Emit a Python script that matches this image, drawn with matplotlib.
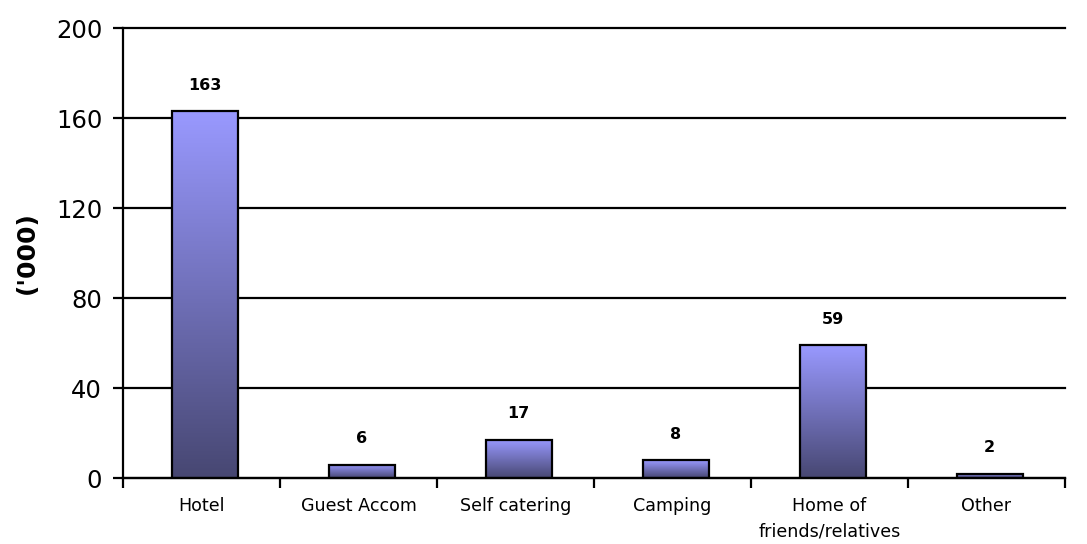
import numpy as np
import matplotlib
matplotlib.use("Agg")
import matplotlib.pyplot as plt
from matplotlib.colors import LinearSegmentedColormap

categories = ["Hotel", "Guest Accom", "Self catering", "Camping",
              "Home of\nfriends/relatives", "Other"]
values = [163, 6, 17, 8, 59, 2]
yticks = [0, 40, 80, 120, 160, 200]

fig = plt.figure(figsize=(10.87, 5.44), dpi=100)
ax = fig.add_axes([0.1132, 0.1213, 0.8666, 0.8272])

x = np.arange(len(categories))
bars = ax.bar(x + 0.02, values, width=0.42, color="none", edgecolor="black",
              linewidth=1.6, zorder=3)

# vertical gradient inside each bar: light at top, dark at bottom
cmap = LinearSegmentedColormap.from_list("grad", ["#474772", "#9999ff"])
grad = np.linspace(0, 1, 256).reshape(-1, 1)
for b in bars:
    x0, y0 = b.get_x(), b.get_y()
    im = ax.imshow(grad, cmap=cmap, aspect="auto", origin="lower",
                   extent=[x0, x0 + b.get_width(), y0, y0 + b.get_height()],
                   zorder=2)
    im.set_clip_path(b)

for xi, v in zip(x + 0.02, values):
    ax.text(xi, v + 11.5, str(v), ha="center", va="center",
            fontsize=11.5, fontweight="bold")

ax.set_xlim(-0.5, len(categories) - 0.5)
ax.set_ylim(0, 200)
ax.set_yticks(yticks)
ax.set_yticklabels([str(t) for t in yticks], fontsize=17.5)
ax.yaxis.grid(True, color="black", linewidth=1.6, zorder=1)
for gl in ax.get_ygridlines():
    gl.set_clip_on(False)
ax.set_axisbelow(True)

ax.set_xticks(x)
ax.set_xticklabels(categories, fontsize=12.6, linespacing=1.5)
ax.tick_params(axis="x", length=0, pad=14)
ax.set_xticks(np.arange(len(categories) + 1) - 0.5, minor=True)
ax.tick_params(axis="x", which="minor", length=7, width=1.6)
ax.tick_params(axis="y", length=7, width=1.6, direction="out", pad=8)

for s in ["top", "right"]:
    ax.spines[s].set_visible(False)
for s in ["left", "bottom"]:
    ax.spines[s].set_linewidth(1.6)

ax.set_ylabel("('000)", fontsize=18, fontweight="bold", labelpad=12)

fig.savefig("out.png", dpi=100)
